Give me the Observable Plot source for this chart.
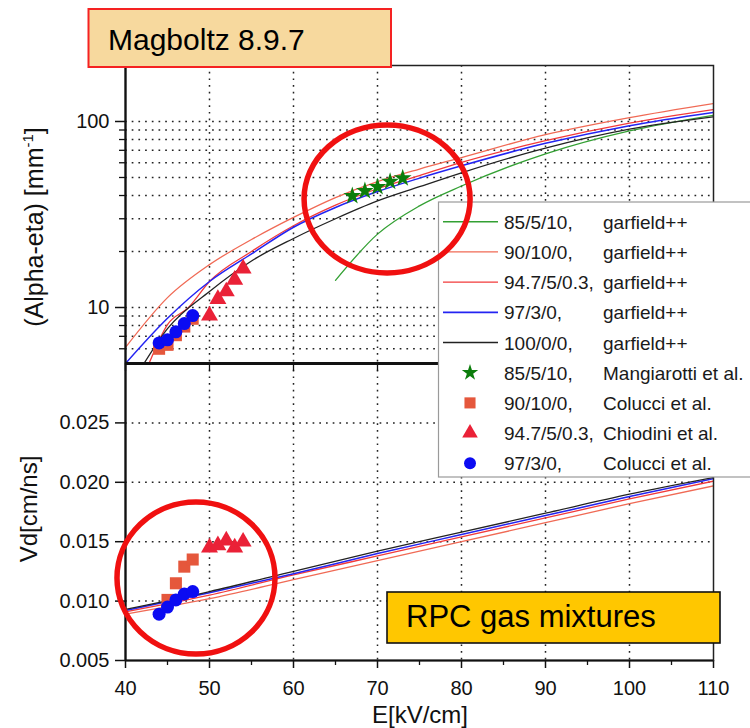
<!DOCTYPE html>
<html><head><meta charset="utf-8">
<script src="https://cdn.jsdelivr.net/npm/d3@7"></script>
<script src="https://cdn.jsdelivr.net/npm/@observablehq/plot@0.6"></script>
<style>
body{margin:0;background:#fff;}
#wrap{position:relative;width:750px;height:728px;overflow:hidden;font-family:"Liberation Sans",Arial,sans-serif;background:#fff}
#wrap > svg{position:absolute;left:0}
</style></head><body><div id="wrap"></div>
<script>
// ---------- DATA ----------
// Top panel: (Alpha-eta) [mm^-1], garfield++ curves
const topE85  = [65, 70, 75, 80, 90, 100, 110];
const topA85  = [14, 24.8, 35.2, 45, 67, 89, 108];
const topE90  = [40, 45, 50, 55, 60, 65, 70, 75, 80, 90, 100, 110];
const topA90  = [6.1, 11.3, 17.0, 23.2, 30.5, 39, 47.5, 55.5, 64, 85, 105, 125];
const topE947 = [42.8, 45, 47.5, 50, 55, 60, 65, 70, 75, 80, 90, 100, 110];
const topA947 = [5.0, 8.1, 10.0, 13.8, 20, 27.5, 35.5, 43.5, 51.2, 60.3, 78.8, 98, 116];
const topE97  = [40, 45, 50, 55, 60, 65, 70, 75, 80, 90, 100, 110];
const topA97  = [5.0, 8.75, 13.8, 19.4, 27.0, 34.5, 42, 49.6, 57.8, 76.3, 95, 112];
const topE100 = [42.2, 45, 50, 55, 60, 65, 70, 75, 80, 90, 100, 110];
const topA100 = [5.0, 7.7, 12.2, 17.8, 23.5, 30, 37.4, 44.6, 53, 72, 91, 106];
// Top panel measurements
const expE85  = [67, 68.5, 70, 71.5, 73];
const expA85  = [39.8, 42.4, 44.5, 47.5, 49.6];
const expE90  = [44, 45, 46, 47, 48];
const expA90  = [6.0, 6.3, 7.1, 7.9, 8.7];
const expE947 = [50, 51, 52, 53, 54];
const expA947 = [9.05, 11.1, 12.2, 14.1, 16.2];
const expE97  = [44, 45, 46, 47, 48];
const expA97  = [6.45, 6.7, 7.4, 8.2, 9.05];
// Bottom panel: Vd [cm/ns], garfield++ curves
const vdE   = [40, 50, 60, 70, 80, 90, 100, 110];
const vd90  = [0.0089, 0.0102, 0.0118, 0.0134, 0.0150, 0.0166, 0.0182, 0.0197];
const vd947 = [0.0091, 0.0105, 0.0122, 0.0138, 0.0154, 0.0170, 0.0186, 0.0201];
const vd97  = [0.0092, 0.0107, 0.0123, 0.0140, 0.0156, 0.0172, 0.0188, 0.0203];
const vd100 = [0.0093, 0.0108, 0.0125, 0.0142, 0.0158, 0.0174, 0.0190, 0.0204];
// Bottom panel measurements
const vdExpE90  = [45, 46, 47, 48];
const vdExp90   = [0.0101, 0.0115, 0.0129, 0.0135];
const vdExpE947 = [50, 51, 52, 53, 54];
const vdExp947  = [0.0145, 0.0147, 0.0151, 0.0145, 0.0150];
const vdExpE97  = [44, 45, 46, 47, 48];
const vdExp97   = [0.0089, 0.0095, 0.0101, 0.0106, 0.0108];
// Axes ticks
const xTicks = [40, 50, 60, 70, 80, 90, 100, 110];
const xMinor = [45, 55, 65, 75, 85, 95, 105];
const xGrid = [50, 60, 70, 80, 90, 100];
const aTicks = [10, 100];
const aMinor = [6, 7, 8, 9, 20, 30, 40, 50, 60, 70, 80, 90];
const aGrid = [6, 7, 8, 9, 10, 20, 30, 40, 50, 60, 70, 80, 90, 100];
const vTicks = [0.005, 0.010, 0.015, 0.020, 0.025];
const vGrid = [0.010, 0.015, 0.020, 0.025];
// Legend
const legendMix = ["85/5/10,", "90/10/0,", "94.7/5/0.3,", "97/3/0,", "100/0/0,", "85/5/10,", "90/10/0,", "94.7/5/0.3,", "97/3/0,"];
const legendSrc = ["garfield++", "garfield++", "garfield++", "garfield++", "garfield++", "Mangiarotti et al.", "Colucci et al.", "Chiodini et al.", "Colucci et al."];
const legendKind = ["line", "line", "line", "line", "line", "star", "square", "triangle", "circle"];
// Texts
const titleText = "Magboltz 8.9.7";
const noteText = "RPC gas mixtures";
const xLabel = "E[kV/cm]";
const yTopLabel = "(Alpha-eta) [mm";
const yTopSup = "-1";
const yBotLabel = "Vd[cm/ns]";

// ---------- STYLE ----------
const C = {g: "#33a033", o: "#f06a55", r: "#f23a3a", b: "#2424f2", k: "#222222"};
const M = {star: "#0b7d0b", square: "#e5573c", triangle: "#ea2137", circle: "#0b0bf2"};
const lineColors = [C.g, C.o, C.r, C.b, C.k];
const markColors = [M.star, M.square, M.triangle, M.circle];
const markSymbols = ["star", "square", "triangle", "circle"];
const markR = {star: 5.6, square: 6.8, triangle: 6.3, circle: 6.5};

const zip = (xs, ys) => xs.map((x, i) => ({x, y: ys[i]}));
const gridStyle = {stroke: "#222", strokeOpacity: 1, strokeDasharray: "1.7,5", strokeWidth: 1.5};
const font = "Liberation Sans, Arial, sans-serif";

const wrap = document.getElementById("wrap");

// ---------- TOP PANEL ----------
const topLines = [[topE85, topA85], [topE90, topA90], [topE947, topA947], [topE97, topA97], [topE100, topA100]];
const topExp = [[expE85, expA85], [expE90, expA90], [expE947, expA947], [expE97, expA97]];
const topPlot = Plot.plot({
  width: 750, height: 364,
  marginTop: 65, marginBottom: 1, marginLeft: 125, marginRight: 37,
  style: {background: "transparent", fontFamily: font, fontSize: "20px", color: "#111", overflow: "visible"},
  x: {domain: [40, 110], axis: null},
  y: {type: "log", domain: [5, 200], axis: null},
  marks: [
    Plot.gridY(aGrid, gridStyle),
    Plot.gridX(xGrid, gridStyle),
    ...topLines.map(([xs, ys], i) => Plot.line(zip(xs, ys), {x: "x", y: "y", stroke: lineColors[i], strokeWidth: i === 3 ? 1.5 : 1.3, curve: "monotone-x", clip: true})),
    ...topExp.map(([xs, ys], i) => Plot.dot(zip(xs, ys), {x: "x", y: "y", symbol: markSymbols[i], r: markR[markSymbols[i]], fill: markColors[i], stroke: "none"})),
    Plot.axisY(aTicks, {anchor: "left", tickSize: 10, tickPadding: 6, fontSize: 20, tickFormat: d => String(d), label: null, strokeWidth: 1.5}),
    Plot.axisY(aMinor, {anchor: "left", tickSize: 6, tickFormat: () => "", label: null, strokeWidth: 1.3}),
    Plot.frame({stroke: "#222", strokeWidth: 1.5}),
    Plot.ruleX([40], {stroke: "#111", strokeWidth: 2.2}),
    Plot.ruleY([5], {stroke: "#111", strokeWidth: 3})
  ]
});
topPlot.style.top = "0px";
wrap.appendChild(topPlot);

// ---------- BOTTOM PANEL ----------
const botLines = [[vdE, vd90, 1], [vdE, vd947, 2], [vdE, vd97, 3], [vdE, vd100, 4]];
const botExp = [[vdExpE90, vdExp90, 1], [vdExpE947, vdExp947, 2], [vdExpE97, vdExp97, 3]];
const botTop = 362;
const botPlot = Plot.plot({
  width: 750, height: 728 - botTop,
  marginTop: 1, marginBottom: 68, marginLeft: 125, marginRight: 37,
  style: {background: "transparent", fontFamily: font, fontSize: "20px", color: "#111", overflow: "visible"},
  x: {domain: [40, 110], axis: null},
  y: {domain: [0.005, 0.030], axis: null},
  marks: [
    Plot.gridY(vGrid, gridStyle),
    Plot.gridX(xGrid, gridStyle),
    ...botLines.map(([xs, ys, ci]) => Plot.line(zip(xs, ys), {x: "x", y: "y", stroke: lineColors[ci], strokeWidth: ci === 3 ? 1.5 : 1.3, curve: "monotone-x", clip: true})),
    ...botExp.map(([xs, ys, ci]) => Plot.dot(zip(xs, ys), {x: "x", y: "y", symbol: markSymbols[ci], r: markR[markSymbols[ci]], fill: markColors[ci], stroke: "none"})),
    Plot.axisY(vTicks, {anchor: "left", tickSize: 10, tickPadding: 6, fontSize: 20, tickFormat: d3.format(".3f"), label: null, strokeWidth: 1.5}),
    Plot.axisX(xTicks, {anchor: "bottom", tickSize: 8, tickPadding: 12, fontSize: 20, tickFormat: d => String(d), label: null, strokeWidth: 1.5}),
    Plot.axisX(xMinor, {anchor: "bottom", tickSize: 5, tickFormat: () => "", label: null, strokeWidth: 1.3}),
    Plot.axisX(xTicks, {anchor: "top", tickSize: -7, tickFormat: () => "", label: null, strokeWidth: 1.3}),
    Plot.frame({stroke: "#222", strokeWidth: 1.5}),
    Plot.ruleX([40], {stroke: "#111", strokeWidth: 2.2}),
    Plot.ruleY([0.005], {stroke: "#111", strokeWidth: 2}),
    Plot.ruleY([0.030], {stroke: "#111", strokeWidth: 3})
  ]
});
botPlot.style.top = botTop + "px";
wrap.appendChild(botPlot);

// ---------- OVERLAY (legend, labels, boxes, annotation circles) ----------
const sxT = topPlot.scale("x"), syT = topPlot.scale("y");
const sxB = botPlot.scale("x"), syB = botPlot.scale("y");
const ov = d3.select(wrap).append("svg").attr("width", 750).attr("height", 728)
  .style("top", "0px").style("font-family", font).style("pointer-events", "none");

// axis titles
ov.append("text").attr("x", 420).attr("y", 723).attr("text-anchor", "middle")
  .attr("font-size", 24).attr("fill", "#111").text(xLabel);
ov.append("text").attr("transform", "translate(37,509) rotate(-90)").attr("text-anchor", "middle")
  .attr("font-size", 24).attr("fill", "#111").text(yBotLabel);
const tl = ov.append("text").attr("transform", "translate(43,227) rotate(-90)").attr("text-anchor", "middle")
  .attr("font-size", 25).attr("fill", "#111");
tl.append("tspan").text(yTopLabel);
tl.append("tspan").attr("font-size", 15).attr("dy", -10).text(yTopSup);
tl.append("tspan").attr("dy", 10).text("]");

// legend
const lg = ov.append("g");
lg.append("rect").attr("x", 438.5).attr("y", 202).attr("width", 330).attr("height", 275)
  .attr("fill", "#fff").attr("stroke", "#9a9a9a").attr("stroke-width", 1.2);
legendMix.forEach((mix, i) => {
  const cy = 221.7 + i * 30.2;
  const kind = legendKind[i];
  if (kind === "line") {
    lg.append("line").attr("x1", 443).attr("x2", 498).attr("y1", cy).attr("y2", cy)
      .attr("stroke", lineColors[i]).attr("stroke-width", i === 3 ? 1.8 : 1.4);
  } else {
    const j = markSymbols.indexOf(kind);
    const sym = {star: d3.symbolStar, square: d3.symbolSquare, triangle: d3.symbolTriangle, circle: d3.symbolCircle}[kind];
    const r = markR[kind] * 0.92;
    lg.append("path").attr("transform", `translate(470,${cy})`)
      .attr("d", d3.symbol(sym, r * r * Math.PI)()).attr("fill", markColors[j]);
  }
  lg.append("text").attr("x", 504).attr("y", cy + 7).attr("font-size", 19).attr("fill", "#1a1a1a").text(mix);
  lg.append("text").attr("x", 603).attr("y", cy + 7).attr("font-size", 19).attr("fill", "#1a1a1a").text(legendSrc[i]);
});

// RPC box
ov.append("rect").attr("x", 387).attr("y", 592).attr("width", 333).attr("height", 51)
  .attr("fill", "#ffc700").attr("stroke", "#111").attr("stroke-width", 1.6);
ov.append("text").attr("x", 406).attr("y", 627).attr("font-size", 31).attr("fill", "#000").text(noteText);

// Magboltz box
ov.append("rect").attr("x", 88.5).attr("y", 9).attr("width", 302.5).attr("height", 58)
  .attr("fill", "#f7d99e").attr("stroke", "#f52222").attr("stroke-width", 2);
ov.append("text").attr("x", 108).attr("y", 50).attr("font-size", 30).attr("fill", "#000").text(titleText);

// annotation circles (centres placed through the plot scales)
ov.append("ellipse").attr("cx", sxT.apply(71.2)).attr("cy", syT.apply(38.1)).attr("rx", 83).attr("ry", 74)
  .attr("fill", "none").attr("stroke", "#f01010").attr("stroke-width", 5.5);
ov.append("ellipse").attr("cx", sxB.apply(48.45)).attr("cy", botTop + syB.apply(0.0119)).attr("rx", 79).attr("ry", 76)
  .attr("fill", "none").attr("stroke", "#f01010").attr("stroke-width", 5.5);
</script></body></html>
